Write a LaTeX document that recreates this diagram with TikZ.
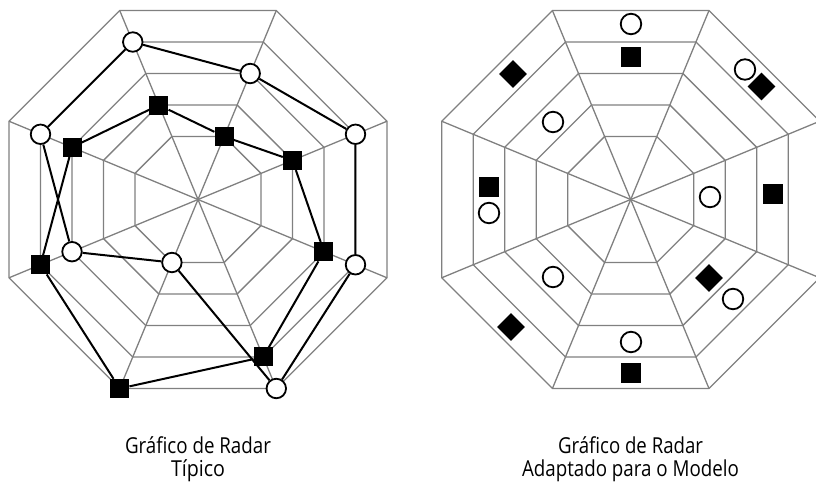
\documentclass[tikz,border=0pt]{standalone}
\usepackage{fontspec}
\setmainfont{Open Sans}
\usetikzlibrary{calc}
\definecolor{gridgray}{RGB}{128,128,128}
\begin{document}
\begin{tikzpicture}[x=1pt,y=-1pt,
  gridline/.style={draw=gridgray, line width=1.3pt, line join=miter},
  conn/.style={draw=black, line width=2pt},
  circmark/.style={circle, draw=black, fill=white, line width=1.8pt, minimum size=19.5pt, inner sep=0pt},
  bigcirc/.style={circle, draw=black, fill=white, line width=1.8pt, minimum size=20.5pt, inner sep=0pt},
  sqmark/.style={rectangle, fill=black, minimum size=19pt, inner sep=0pt},
  bigsq/.style={rectangle, fill=black, minimum size=20pt, inner sep=0pt},
  diamark/.style={rectangle, fill=black, minimum size=19.5pt, inner sep=0pt, rotate=45},
  caption/.style={anchor=base, inner sep=0pt, font=\fontsize{22}{22}\selectfont}
]
\useasboundingbox (0,0) rectangle (816,483);
\clip (0,0) rectangle (816,483);

% ---------- left radar grid ----------
\begin{scope}[shift={(198,199.5)}]
  \foreach \k in {2,...,6} {
    \pgfmathsetmacro{\R}{34.095*\k}
    \draw[gridline] (22.5:\R) \foreach \a in {67.5,112.5,...,337.5} { -- (\a:\R) } -- cycle;
  }
  \foreach \a in {22.5,67.5,...,337.5} \draw[gridline] (0,0) -- (\a:204.57);

  % circles
  \node[circmark] (c1) at (247.5:170.47) {};
  \node[circmark] (c2) at (292.5:136.38) {};
  \node[circmark] (c3) at (337.5:170.47) {};
  \node[circmark] (c4) at (22.5:170.47) {};
  \node[circmark] (c5) at (67.5:204.57) {};
  \node[circmark] (c6) at (112.5:68.19) {};
  \node[circmark] (c7) at (157.5:136.38) {};
  \node[circmark] (c8) at (202.5:170.47) {};
  % squares
  \node[sqmark] (s1) at (247.5:102.28) {};
  \node[sqmark] (s2) at (292.5:68.19) {};
  \node[sqmark] (s3) at (337.5:102.28) {};
  \node[sqmark] (s4) at (22.5:136.38) {};
  \node[sqmark] (s5) at (67.5:170.47) {};
  \node[sqmark] (s6) at (112.5:204.57) {};
  \node[sqmark] (s7) at (157.5:170.47) {};
  \node[sqmark] (s8) at (202.5:136.38) {};
\end{scope}

\draw[conn] (c1) -- (c2) -- (c3) -- (c4) -- (c5) -- (c6) -- (c7) -- (c8) -- (c1);
\draw[conn] (s1) -- (s2) -- (s3) -- (s4) -- (s5) -- (s6) -- (s7) -- (s8) -- (s1);

% ---------- right radar grid ----------
\begin{scope}[shift={(630.7,199.5)}]
  \foreach \k in {2,...,6} {
    \pgfmathsetmacro{\R}{34.095*\k}
    \draw[gridline] (22.5:\R) \foreach \a in {67.5,112.5,...,337.5} { -- (\a:\R) } -- cycle;
  }
  \foreach \a in {22.5,67.5,...,337.5} \draw[gridline] (0,0) -- (\a:204.57);
\end{scope}

\node[bigcirc] (rtc) at (631,24) {};
\node[bigsq]   (rts) at (631,57) {};
\node[bigcirc] (rtrc) at (745,69.5) {};
\node[diamark] (rtrd) at (761.5,86.5) {};
\node[diamark] (rtld) at (513,74) {};
\node[bigcirc] (rulc) at (553,122) {};
\node[bigcirc] (rrc) at (710,197) {};
\node[bigsq]   (rrs) at (773,194) {};
\node[bigsq]   (rls) at (489,187) {};
\node[bigcirc] (rlc) at (489,213) {};
\node[bigcirc] (rllc) at (553,277) {};
\node[diamark] (rlrd) at (709,278) {};
\node[bigcirc] (rlrc) at (733,299) {};
\node[diamark] (rbld) at (511,327) {};
\node[bigcirc] (rbc) at (631,342) {};
\node[bigsq]   (rbs) at (631,373) {};

% ---------- captions ----------
\node[caption] (t1) at (198,453) {\resizebox{146pt}{\height}{Gráfico de Radar}};
\node[caption] (t2) at (198,476) {\resizebox{54pt}{\height}{Típico}};
\node[caption] (t3) at (630.5,453) {\resizebox{145pt}{\height}{Gráfico de Radar}};
\node[caption] (t4) at (630.5,476) {\resizebox{217pt}{\height}{Adaptado para o Modelo}};
\end{tikzpicture}
\end{document}
